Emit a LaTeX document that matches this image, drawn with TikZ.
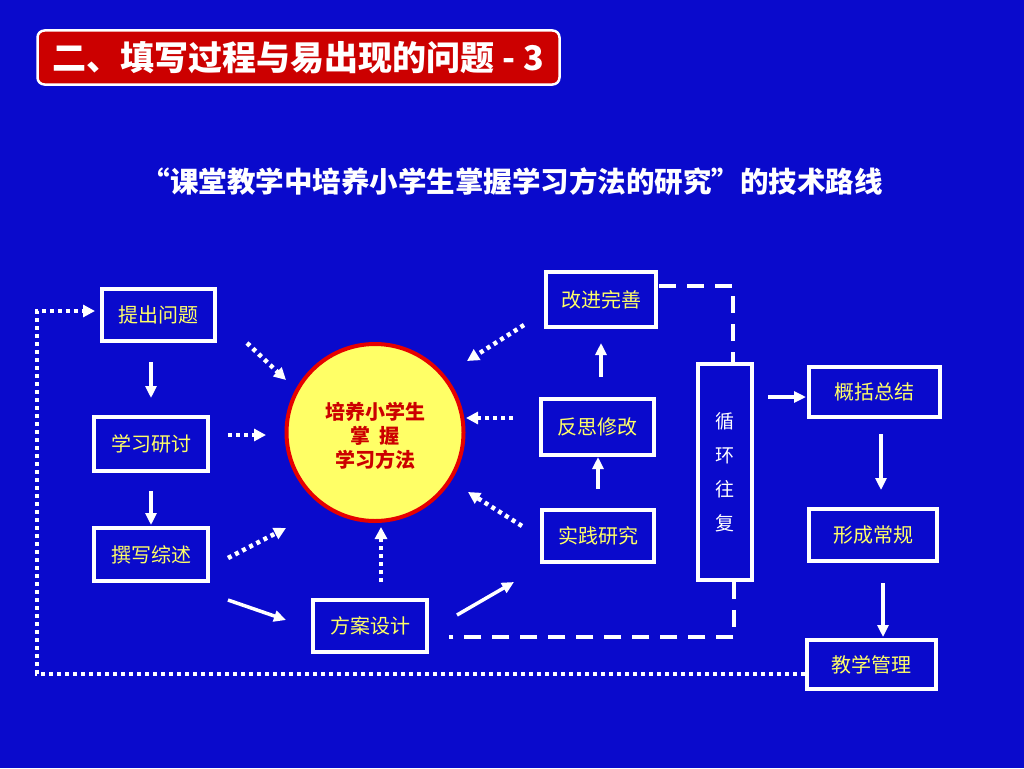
\documentclass[tikz,border=0pt]{standalone}
\usepackage{fontspec}
\setmainfont{Liberation Sans}
\newfontfamily\cjk{Noto Sans CJK SC}
\usetikzlibrary{arrows.meta}
\definecolor{bg}{RGB}{10,10,204}
\definecolor{titlered}{RGB}{204,0,0}
\definecolor{tyellow}{RGB}{255,255,102}
\definecolor{cred}{RGB}{230,0,0}
\definecolor{ctext}{RGB}{204,0,0}
\begin{document}
\begin{tikzpicture}[x=1pt,y=-1pt,
  box/.style={draw=white, line width=3.5pt, fill=bg, text=tyellow, font=\cjk\fontsize{20}{22}\selectfont, inner sep=0pt},
  solidarr/.style={draw=white, line width=3.5pt, -{Triangle[length=12pt,width=11pt]}},
  dotarr/.style={draw=white, line width=4.5pt, dash pattern=on 4pt off 4pt, -{Triangle[length=12pt,width=12pt]}},
  dashln/.style={draw=white, line width=4pt, dash pattern=on 17pt off 11pt}]
\fill[bg] (0,0) rectangle (1024,768);
\useasboundingbox (0,0) rectangle (1024,768);

% title
\node[draw=white, line width=2.5pt, fill=titlered, rounded corners=7pt,
  minimum width=522pt, minimum height=54pt, text=white,
  font=\cjk\bfseries\fontsize{34}{38}\selectfont] (title) at (298.5,57.5) {二、填写过程与易出现的问题\ -\ 3};

\node[text=white, font=\cjk\bfseries\fontsize{28.5}{32}\selectfont] (sub) at (512,182)
  {“课堂教学中培养小学生掌握学习方法的研究”的技术路线};

% boxes
\node[box, minimum width=113pt, minimum height=52pt] (q1) at (158.5,315) {提出问题};
\node[box, minimum width=114pt, minimum height=54pt] (q2) at (151,444) {学习研讨};
\node[box, minimum width=114pt, minimum height=53pt] (q3) at (151,554.5) {撰写综述};
\node[box, minimum width=114pt, minimum height=52pt] (q4) at (370,626) {方案设计};
\node[box, minimum width=110pt, minimum height=55pt] (r1) at (601,299.5) {改进完善};
\node[box, minimum width=113pt, minimum height=56pt] (r2) at (597.5,427) {反思修改};
\node[box, minimum width=112pt, minimum height=52pt] (r3) at (598,536) {实践研究};
\node[box, minimum width=54pt, minimum height=216pt, text=white, align=center,
  font=\cjk\fontsize{19}{34}\selectfont] (loop) at (725,472) {循\\环\\往\\复};
\node[box, minimum width=131pt, minimum height=50pt] (s1) at (874.5,392) {概括总结};
\node[box, minimum width=128pt, minimum height=52pt] (s2) at (873,535) {形成常规};
\node[box, minimum width=129pt, minimum height=49pt] (s3) at (871.5,664.5) {教学管理};

% circle
\node[circle, draw=cred, line width=4pt, fill=tyellow, minimum size=177pt] (c) at (375,432.5) {};
\node[text=ctext, align=center, font=\cjk\bfseries\fontsize{20}{24}\selectfont] (ctxt) at (375,436)
  {培养小学生\\掌\ \ 握\\学习方法};

% solid arrows
\coordinate (q1o) at (151,362); \coordinate (q2i) at (151,398);
\coordinate (q2o) at (151,491); \coordinate (q3i) at (151,525);
\coordinate (q3o) at (228,600); \coordinate (q4i) at (286,620);
\coordinate (q4o) at (457,615); \coordinate (r3i) at (514,582);
\coordinate (r3o) at (598,489); \coordinate (r2i) at (598,457);
\coordinate (r2o) at (601,377); \coordinate (r1i) at (601,343);
\coordinate (loopo) at (768,397); \coordinate (s1i) at (806,397);
\coordinate (s1o) at (881,434); \coordinate (s2i) at (881,490);
\coordinate (s2o) at (883,583); \coordinate (s3i) at (883,637);
\draw[solidarr] (q1o) -- (q2i);
\draw[solidarr] (q2o) -- (q3i);
\draw[solidarr] (q3o) -- (q4i);
\draw[solidarr] (q4o) -- (r3i);
\draw[solidarr] (r3o) -- (r2i);
\draw[solidarr] (r2o) -- (r1i);
\draw[solidarr] (loopo) -- (s1i);
\draw[solidarr] (s1o) -- (s2i);
\draw[solidarr] (s2o) -- (s3i);

% dotted arrows to circle
\coordinate (b1s) at (247,343); \coordinate (b1e) at (286,380);
\coordinate (b2s) at (228,435); \coordinate (b2e) at (266,435);
\coordinate (b3s) at (228,558); \coordinate (b3e) at (286,528);
\coordinate (b4s) at (381,582); \coordinate (b4e) at (381,527);
\coordinate (b5s) at (524,325); \coordinate (b5e) at (467,361);
\coordinate (b6s) at (513,418); \coordinate (b6e) at (466,418);
\coordinate (b7s) at (522,526); \coordinate (b7e) at (468,492);
\draw[dotarr] (b1s) -- (b1e);
\draw[dotarr] (b2s) -- (b2e);
\draw[dotarr] (b3s) -- (b3e);
\draw[dotarr] (b4s) -- (b4e);
\draw[dotarr] (b5s) -- (b5e);
\draw[dotarr] (b6s) -- (b6e);
\draw[dotarr] (b7s) -- (b7e);

% feedback loop
\coordinate (lb) at (805,674);
\coordinate (lt) at (37,311);
\coordinate (q1i) at (95,311);
\draw[dotarr] (lb) -| (lt) -- (q1i);

% dashed lines
\coordinate (d1) at (659,286);
\coordinate (d2) at (733,286);
\coordinate (d3) at (734,637);
\coordinate (d4) at (449,637);
\draw[dashln] (d1) -- (d2) -- (d2 |- loop.north);
\draw[dashln] (d3 |- loop.south) -- (d3) -- (d4);
\end{tikzpicture}
\end{document}
